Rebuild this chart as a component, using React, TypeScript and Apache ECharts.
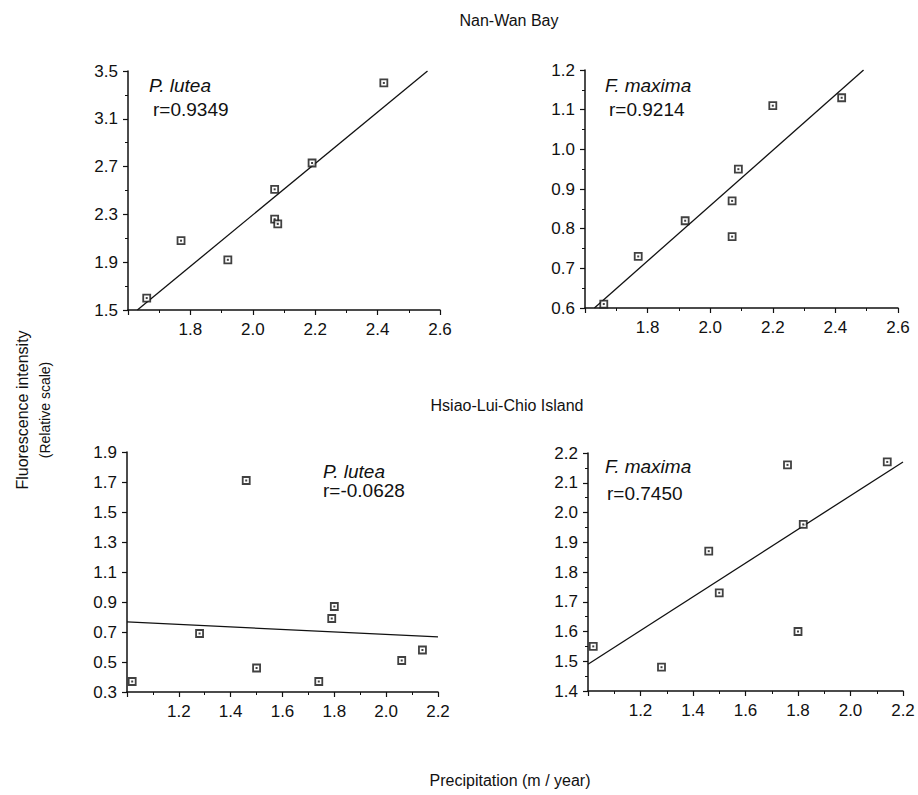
import React, { useEffect, useRef } from "react";
import * as echarts from "echarts";

// ---- Data ----
// Nan-Wan Bay, P. lutea
const nwLuteaX = [1.66, 1.77, 1.92, 2.07, 2.07, 2.08, 2.19, 2.42];
const nwLuteaY = [1.6, 2.08, 1.92, 2.51, 2.26, 2.22, 2.73, 3.4];
const nwLuteaFit = [[1.63, 1.5], [2.56, 3.5]];
// Nan-Wan Bay, F. maxima
const nwMaximaX = [1.66, 1.77, 1.92, 2.09, 2.07, 2.07, 2.2, 2.42];
const nwMaximaY = [0.61, 0.73, 0.82, 0.95, 0.87, 0.78, 1.11, 1.13];
const nwMaximaFit = [[1.63, 0.6], [2.49, 1.2]];
// Hsiao-Lui-Chio Island, P. lutea
const hlLuteaX = [1.02, 1.28, 1.46, 1.5, 1.74, 1.79, 1.8, 2.06, 2.14];
const hlLuteaY = [0.37, 0.69, 1.71, 0.46, 0.37, 0.79, 0.87, 0.51, 0.58];
const hlLuteaFit = [[1.0, 0.767], [2.2, 0.667]];
// Hsiao-Lui-Chio Island, F. maxima
const hlMaximaX = [1.02, 1.28, 1.46, 1.5, 1.76, 1.8, 1.82, 2.14];
const hlMaximaY = [1.55, 1.48, 1.87, 1.73, 2.16, 1.6, 1.96, 2.17];
const hlMaximaFit = [[1.0, 1.49], [2.2, 2.17]];

// axis ranges [min, max, interval]
const xRanges = [
  [1.6, 2.6, 0.2],
  [1.6, 2.6, 0.2],
  [1.0, 2.2, 0.2],
  [1.0, 2.2, 0.2],
];
const yRanges = [
  [1.5, 3.5, 0.4],
  [0.6, 1.2, 0.1],
  [0.3, 1.9, 0.2],
  [1.4, 2.2, 0.1],
];

const speciesNames = ["P. lutea", "F. maxima", "P. lutea", "F. maxima"];
const rLabels = ["r=0.9349", "r=0.9214", "r=-0.0628", "r=0.7450"];
const siteTitles = ["Nan-Wan Bay", "Hsiao-Lui-Chio Island"];
const yTitle = "Fluorescence intensity";
const ySubTitle = "(Relative scale)";
const xTitle = "Precipitation (m / year)";

const FONT = "'Liberation Sans', Arial, Helvetica, sans-serif";
const INK = "#111";

function zip(xs: number[], ys: number[]) {
  return xs.map((x, i) => [x, ys[i]]);
}

export default function App() {
  const ref = useRef<HTMLDivElement>(null);

  useEffect(() => {
    if (!ref.current) return;
    const chart = echarts.init(ref.current, undefined, { renderer: "svg" });

    const grids = [
      { left: 128, top: 71, width: 312, height: 239 },
      { left: 585, top: 70, width: 313, height: 238 },
      { left: 127, top: 452, width: 311, height: 240 },
      { left: 588, top: 453, width: 315, height: 238 },
    ];

    const panelData = [
      zip(nwLuteaX, nwLuteaY),
      zip(nwMaximaX, nwMaximaY),
      zip(hlLuteaX, hlLuteaY),
      zip(hlMaximaX, hlMaximaY),
    ];
    const fits = [nwLuteaFit, nwMaximaFit, hlLuteaFit, hlMaximaFit];

    const lineStyle = { color: INK, width: 1.5 };

    const xAxis = xRanges.map((r, i) => ({
      type: "value",
      gridIndex: i,
      min: r[0],
      max: r[1],
      interval: r[2],
      axisLine: { show: true, onZero: false, lineStyle },
      axisTick: { show: true, inside: false, length: 5, lineStyle: { color: INK, width: 1.2 } },
      minorTick: { show: true, splitNumber: 2, length: 3, lineStyle: { color: INK, width: 1 } },
      splitLine: { show: false },
      minorSplitLine: { show: false },
      axisLabel: {
        showMinLabel: false,
        color: INK,
        fontSize: 17,
        fontFamily: FONT,
        margin: 11,
        formatter: (v: number) => v.toFixed(1),
      },
    }));

    const yAxis = yRanges.map((r, i) => ({
      type: "value",
      gridIndex: i,
      min: r[0],
      max: r[1],
      interval: r[2],
      axisLine: { show: true, onZero: false, lineStyle },
      axisTick: { show: true, inside: false, length: 5, lineStyle: { color: INK, width: 1.2 } },
      minorTick: { show: i !== 2, splitNumber: 2, length: 3, lineStyle: { color: INK, width: 1 } },
      splitLine: { show: false },
      minorSplitLine: { show: false },
      axisLabel: {
        color: INK,
        fontSize: 17,
        fontFamily: FONT,
        margin: 10,
        formatter: (v: number) => v.toFixed(1),
      },
    }));

    const series: any[] = [];
    for (let i = 0; i < 4; i++) {
      series.push({
        type: "line",
        xAxisIndex: i,
        yAxisIndex: i,
        data: fits[i],
        symbol: "none",
        lineStyle: { color: INK, width: 1.3 },
        z: 2,
        silent: true,
      });
      series.push({
        type: "scatter",
        xAxisIndex: i,
        yAxisIndex: i,
        data: panelData[i],
        symbol: "rect",
        symbolSize: 7,
        itemStyle: { color: "#fff", borderColor: INK, borderWidth: 1.8 },
        z: 3,
      });
      series.push({
        type: "scatter",
        xAxisIndex: i,
        yAxisIndex: i,
        data: panelData[i],
        symbol: "rect",
        symbolSize: 2,
        itemStyle: { color: INK },
        z: 4,
      });
    }

    const annPos = [
      { sx: 149, sy: 85, rx: 153, ry: 109 },
      { sx: 605, sy: 85, rx: 609, ry: 109 },
      { sx: 323, sy: 471, rx: 323, ry: 490 },
      { sx: 605, sy: 466, rx: 607, ry: 493 },
    ];

    const graphic: any[] = [];
    annPos.forEach((p, i) => {
      graphic.push({
        type: "text",
        x: p.sx,
        y: p.sy,
        style: {
          text: speciesNames[i],
          font: `italic 19px ${FONT}`,
          fill: INK,
          textAlign: "left",
          textVerticalAlign: "middle",
        },
      });
      graphic.push({
        type: "text",
        x: p.rx,
        y: p.ry,
        style: {
          text: rLabels[i],
          font: `19px ${FONT}`,
          fill: INK,
          textAlign: "left",
          textVerticalAlign: "middle",
        },
      });
    });
    graphic.push({
      type: "text",
      x: 509,
      y: 20,
      style: { text: siteTitles[0], font: `16px ${FONT}`, fill: INK, textAlign: "center", textVerticalAlign: "middle" },
    });
    graphic.push({
      type: "text",
      x: 507,
      y: 405,
      style: { text: siteTitles[1], font: `16px ${FONT}`, fill: INK, textAlign: "center", textVerticalAlign: "middle" },
    });
    graphic.push({
      type: "text",
      x: 510,
      y: 780,
      style: { text: xTitle, font: `16px ${FONT}`, fill: INK, textAlign: "center", textVerticalAlign: "middle" },
    });
    graphic.push({
      type: "text",
      x: 22,
      y: 410,
      rotation: Math.PI / 2,
      style: { text: yTitle, font: `16px ${FONT}`, fill: INK, textAlign: "center", textVerticalAlign: "middle" },
    });
    graphic.push({
      type: "text",
      x: 45,
      y: 410,
      rotation: Math.PI / 2,
      style: { text: ySubTitle, font: `14px ${FONT}`, fill: INK, textAlign: "center", textVerticalAlign: "middle" },
    });

    chart.setOption({
      animation: false,
      backgroundColor: "#fff",
      textStyle: { fontFamily: FONT },
      grid: grids.map((g) => ({ ...g, containLabel: false })),
      xAxis,
      yAxis,
      series,
      graphic,
    });

    return () => {
      chart.dispose();
    };
  }, []);

  return (
    <div
      ref={ref}
      style={{ position: "absolute", left: 0, top: 0, width: 918, height: 795, background: "#fff" }}
    />
  );
}
